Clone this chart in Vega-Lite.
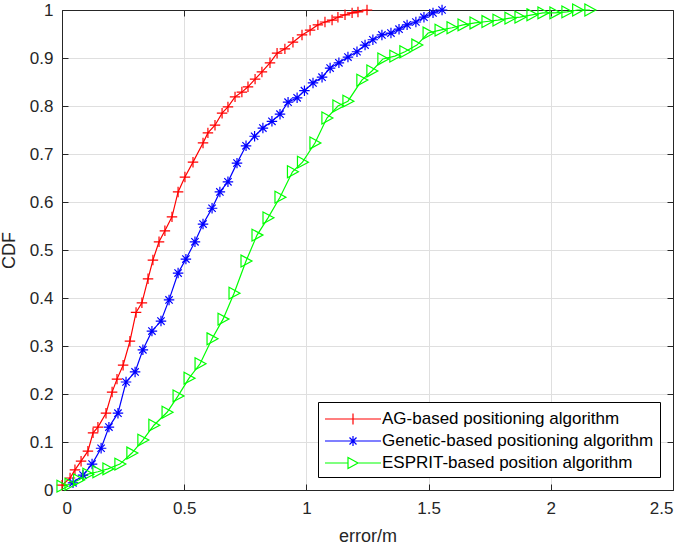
{
  "$schema": "https://vega.github.io/schema/vega-lite/v6.json",
  "width": 611,
  "height": 480,
  "autosize": {"type": "none"},
  "padding": {"left": 62, "top": 10, "right": 12, "bottom": 58},
  "background": "white",
  "config": {
    "font": "Liberation Sans",
    "view": {"stroke": null},
    "axis": {
      "domainColor": "#262626",
      "domainWidth": 1,
      "tickColor": "#262626",
      "tickWidth": 1,
      "labelColor": "#262626",
      "labelFont": "Liberation Sans",
      "labelFontSize": 17,
      "titleFont": "Liberation Sans",
      "titleFontSize": 18,
      "titleFontWeight": "normal",
      "titleColor": "#262626",
      "gridColor": "#dfdfdf",
      "gridWidth": 1
    },
    "legend": {"symbolSize": 400}
  },
  "data": {
    "values": [
      {"a": "AG-based positioning algorithm", "x": 0.0, "y": 0.01},
      {"a": "AG-based positioning algorithm", "x": 0.033, "y": 0.025},
      {"a": "AG-based positioning algorithm", "x": 0.053, "y": 0.042},
      {"a": "AG-based positioning algorithm", "x": 0.078, "y": 0.06},
      {"a": "AG-based positioning algorithm", "x": 0.106, "y": 0.081},
      {"a": "AG-based positioning algorithm", "x": 0.127, "y": 0.119},
      {"a": "AG-based positioning algorithm", "x": 0.147, "y": 0.131},
      {"a": "AG-based positioning algorithm", "x": 0.18, "y": 0.16},
      {"a": "AG-based positioning algorithm", "x": 0.205, "y": 0.204},
      {"a": "AG-based positioning algorithm", "x": 0.225, "y": 0.231},
      {"a": "AG-based positioning algorithm", "x": 0.25, "y": 0.26},
      {"a": "AG-based positioning algorithm", "x": 0.278, "y": 0.31},
      {"a": "AG-based positioning algorithm", "x": 0.303, "y": 0.37},
      {"a": "AG-based positioning algorithm", "x": 0.327, "y": 0.39},
      {"a": "AG-based positioning algorithm", "x": 0.352, "y": 0.44},
      {"a": "AG-based positioning algorithm", "x": 0.372, "y": 0.479},
      {"a": "AG-based positioning algorithm", "x": 0.397, "y": 0.517},
      {"a": "AG-based positioning algorithm", "x": 0.421, "y": 0.54},
      {"a": "AG-based positioning algorithm", "x": 0.45, "y": 0.569},
      {"a": "AG-based positioning algorithm", "x": 0.475, "y": 0.621},
      {"a": "AG-based positioning algorithm", "x": 0.503, "y": 0.652},
      {"a": "AG-based positioning algorithm", "x": 0.536, "y": 0.683},
      {"a": "AG-based positioning algorithm", "x": 0.577, "y": 0.723},
      {"a": "AG-based positioning algorithm", "x": 0.597, "y": 0.744},
      {"a": "AG-based positioning algorithm", "x": 0.626, "y": 0.76},
      {"a": "AG-based positioning algorithm", "x": 0.655, "y": 0.785},
      {"a": "AG-based positioning algorithm", "x": 0.679, "y": 0.798},
      {"a": "AG-based positioning algorithm", "x": 0.708, "y": 0.819},
      {"a": "AG-based positioning algorithm", "x": 0.736, "y": 0.829},
      {"a": "AG-based positioning algorithm", "x": 0.761, "y": 0.84},
      {"a": "AG-based positioning algorithm", "x": 0.79, "y": 0.856},
      {"a": "AG-based positioning algorithm", "x": 0.818, "y": 0.871},
      {"a": "AG-based positioning algorithm", "x": 0.851, "y": 0.89},
      {"a": "AG-based positioning algorithm", "x": 0.88, "y": 0.91},
      {"a": "AG-based positioning algorithm", "x": 0.912, "y": 0.919},
      {"a": "AG-based positioning algorithm", "x": 0.945, "y": 0.933},
      {"a": "AG-based positioning algorithm", "x": 0.982, "y": 0.948},
      {"a": "AG-based positioning algorithm", "x": 1.015, "y": 0.958},
      {"a": "AG-based positioning algorithm", "x": 1.047, "y": 0.969},
      {"a": "AG-based positioning algorithm", "x": 1.076, "y": 0.975},
      {"a": "AG-based positioning algorithm", "x": 1.105, "y": 0.979},
      {"a": "AG-based positioning algorithm", "x": 1.129, "y": 0.985},
      {"a": "AG-based positioning algorithm", "x": 1.158, "y": 0.99},
      {"a": "AG-based positioning algorithm", "x": 1.187, "y": 0.994},
      {"a": "AG-based positioning algorithm", "x": 1.211, "y": 0.996},
      {"a": "AG-based positioning algorithm", "x": 1.248, "y": 1.0},
      {"a": "Genetic-based positioning algorithm", "x": 0.045, "y": 0.015},
      {"a": "Genetic-based positioning algorithm", "x": 0.086, "y": 0.031},
      {"a": "Genetic-based positioning algorithm", "x": 0.123, "y": 0.054},
      {"a": "Genetic-based positioning algorithm", "x": 0.16, "y": 0.087},
      {"a": "Genetic-based positioning algorithm", "x": 0.192, "y": 0.131},
      {"a": "Genetic-based positioning algorithm", "x": 0.229, "y": 0.16},
      {"a": "Genetic-based positioning algorithm", "x": 0.262, "y": 0.225},
      {"a": "Genetic-based positioning algorithm", "x": 0.299, "y": 0.246},
      {"a": "Genetic-based positioning algorithm", "x": 0.331, "y": 0.292},
      {"a": "Genetic-based positioning algorithm", "x": 0.368, "y": 0.331},
      {"a": "Genetic-based positioning algorithm", "x": 0.405, "y": 0.352},
      {"a": "Genetic-based positioning algorithm", "x": 0.438, "y": 0.396},
      {"a": "Genetic-based positioning algorithm", "x": 0.475, "y": 0.452},
      {"a": "Genetic-based positioning algorithm", "x": 0.507, "y": 0.481},
      {"a": "Genetic-based positioning algorithm", "x": 0.544, "y": 0.517},
      {"a": "Genetic-based positioning algorithm", "x": 0.577, "y": 0.554},
      {"a": "Genetic-based positioning algorithm", "x": 0.614, "y": 0.587},
      {"a": "Genetic-based positioning algorithm", "x": 0.646, "y": 0.621},
      {"a": "Genetic-based positioning algorithm", "x": 0.679, "y": 0.642},
      {"a": "Genetic-based positioning algorithm", "x": 0.716, "y": 0.681},
      {"a": "Genetic-based positioning algorithm", "x": 0.753, "y": 0.717},
      {"a": "Genetic-based positioning algorithm", "x": 0.788, "y": 0.737},
      {"a": "Genetic-based positioning algorithm", "x": 0.822, "y": 0.754},
      {"a": "Genetic-based positioning algorithm", "x": 0.859, "y": 0.768},
      {"a": "Genetic-based positioning algorithm", "x": 0.892, "y": 0.783},
      {"a": "Genetic-based positioning algorithm", "x": 0.925, "y": 0.808},
      {"a": "Genetic-based positioning algorithm", "x": 0.962, "y": 0.817},
      {"a": "Genetic-based positioning algorithm", "x": 0.992, "y": 0.832},
      {"a": "Genetic-based positioning algorithm", "x": 1.027, "y": 0.848},
      {"a": "Genetic-based positioning algorithm", "x": 1.064, "y": 0.86},
      {"a": "Genetic-based positioning algorithm", "x": 1.097, "y": 0.879},
      {"a": "Genetic-based positioning algorithm", "x": 1.133, "y": 0.89},
      {"a": "Genetic-based positioning algorithm", "x": 1.17, "y": 0.902},
      {"a": "Genetic-based positioning algorithm", "x": 1.207, "y": 0.913},
      {"a": "Genetic-based positioning algorithm", "x": 1.24, "y": 0.927},
      {"a": "Genetic-based positioning algorithm", "x": 1.272, "y": 0.938},
      {"a": "Genetic-based positioning algorithm", "x": 1.309, "y": 0.948},
      {"a": "Genetic-based positioning algorithm", "x": 1.346, "y": 0.952},
      {"a": "Genetic-based positioning algorithm", "x": 1.379, "y": 0.96},
      {"a": "Genetic-based positioning algorithm", "x": 1.412, "y": 0.969},
      {"a": "Genetic-based positioning algorithm", "x": 1.448, "y": 0.975},
      {"a": "Genetic-based positioning algorithm", "x": 1.481, "y": 0.985},
      {"a": "Genetic-based positioning algorithm", "x": 1.518, "y": 0.994},
      {"a": "Genetic-based positioning algorithm", "x": 1.555, "y": 1.0},
      {"a": "ESPRIT-based position algorithm", "x": 0.0, "y": 0.008},
      {"a": "ESPRIT-based position algorithm", "x": 0.033, "y": 0.012},
      {"a": "ESPRIT-based position algorithm", "x": 0.068, "y": 0.021},
      {"a": "ESPRIT-based position algorithm", "x": 0.106, "y": 0.033},
      {"a": "ESPRIT-based position algorithm", "x": 0.147, "y": 0.038},
      {"a": "ESPRIT-based position algorithm", "x": 0.188, "y": 0.044},
      {"a": "ESPRIT-based position algorithm", "x": 0.237, "y": 0.054},
      {"a": "ESPRIT-based position algorithm", "x": 0.286, "y": 0.077},
      {"a": "ESPRIT-based position algorithm", "x": 0.331, "y": 0.104},
      {"a": "ESPRIT-based position algorithm", "x": 0.376, "y": 0.135},
      {"a": "ESPRIT-based position algorithm", "x": 0.43, "y": 0.162},
      {"a": "ESPRIT-based position algorithm", "x": 0.475, "y": 0.196},
      {"a": "ESPRIT-based position algorithm", "x": 0.52, "y": 0.233},
      {"a": "ESPRIT-based position algorithm", "x": 0.565, "y": 0.263},
      {"a": "ESPRIT-based position algorithm", "x": 0.614, "y": 0.315},
      {"a": "ESPRIT-based position algorithm", "x": 0.659, "y": 0.356},
      {"a": "ESPRIT-based position algorithm", "x": 0.704, "y": 0.41},
      {"a": "ESPRIT-based position algorithm", "x": 0.753, "y": 0.477},
      {"a": "ESPRIT-based position algorithm", "x": 0.798, "y": 0.531},
      {"a": "ESPRIT-based position algorithm", "x": 0.843, "y": 0.567},
      {"a": "ESPRIT-based position algorithm", "x": 0.892, "y": 0.61},
      {"a": "ESPRIT-based position algorithm", "x": 0.943, "y": 0.663},
      {"a": "ESPRIT-based position algorithm", "x": 0.984, "y": 0.683},
      {"a": "ESPRIT-based position algorithm", "x": 1.035, "y": 0.723},
      {"a": "ESPRIT-based position algorithm", "x": 1.084, "y": 0.775},
      {"a": "ESPRIT-based position algorithm", "x": 1.129, "y": 0.8},
      {"a": "ESPRIT-based position algorithm", "x": 1.17, "y": 0.81},
      {"a": "ESPRIT-based position algorithm", "x": 1.227, "y": 0.854},
      {"a": "ESPRIT-based position algorithm", "x": 1.268, "y": 0.873},
      {"a": "ESPRIT-based position algorithm", "x": 1.313, "y": 0.898},
      {"a": "ESPRIT-based position algorithm", "x": 1.362, "y": 0.904},
      {"a": "ESPRIT-based position algorithm", "x": 1.403, "y": 0.913},
      {"a": "ESPRIT-based position algorithm", "x": 1.452, "y": 0.927},
      {"a": "ESPRIT-based position algorithm", "x": 1.498, "y": 0.952},
      {"a": "ESPRIT-based position algorithm", "x": 1.547, "y": 0.958},
      {"a": "ESPRIT-based position algorithm", "x": 1.596, "y": 0.963},
      {"a": "ESPRIT-based position algorithm", "x": 1.641, "y": 0.969},
      {"a": "ESPRIT-based position algorithm", "x": 1.69, "y": 0.973},
      {"a": "ESPRIT-based position algorithm", "x": 1.739, "y": 0.976},
      {"a": "ESPRIT-based position algorithm", "x": 1.784, "y": 0.979},
      {"a": "ESPRIT-based position algorithm", "x": 1.833, "y": 0.983},
      {"a": "ESPRIT-based position algorithm", "x": 1.874, "y": 0.985},
      {"a": "ESPRIT-based position algorithm", "x": 1.923, "y": 0.99},
      {"a": "ESPRIT-based position algorithm", "x": 1.968, "y": 0.994},
      {"a": "ESPRIT-based position algorithm", "x": 2.017, "y": 0.994},
      {"a": "ESPRIT-based position algorithm", "x": 2.066, "y": 0.996},
      {"a": "ESPRIT-based position algorithm", "x": 2.11, "y": 1.0},
      {"a": "ESPRIT-based position algorithm", "x": 2.16, "y": 1.0}
    ]
  },
  "resolve": {"axis": {"x": "independent", "y": "independent"}},
  "layer": [
    {
      "mark": {"type": "line", "strokeWidth": 1.2, "clip": false},
      "encoding": {
        "x": {
          "field": "x", "type": "quantitative",
          "scale": {"domain": [0, 2.5], "nice": false, "zero": false},
          "axis": {
            "orient": "bottom", "title": "error/m", "values": [0, 0.5, 1, 1.5, 2, 2.5],
            "format": "~g", "grid": true, "tickSize": -6, "labelPadding": 16, "titlePadding": 11
          }
        },
        "y": {
          "field": "y", "type": "quantitative",
          "scale": {"domain": [0, 1], "nice": false, "zero": false},
          "axis": {
            "orient": "left", "title": "CDF", "values": [0, 0.1, 0.2, 0.3, 0.4, 0.5, 0.6, 0.7, 0.8, 0.9, 1],
            "format": "~g", "grid": true, "tickSize": -6, "labelPadding": 15, "titlePadding": 11
          }
        },
        "color": {
          "field": "a", "type": "nominal",
          "scale": {
            "domain": ["AG-based positioning algorithm", "Genetic-based positioning algorithm", "ESPRIT-based position algorithm"],
            "range": ["#ff0000", "#0000ff", "#00ff00"]
          },
          "legend": {
            "title": null,
            "orient": "none",
            "legendX": 256,
            "legendY": 392,
            "padding": 6,
            "strokeColor": "#000000",
            "fillColor": "#ffffff",
            "labelFontSize": 17,
            "labelFont": "Liberation Sans",
            "labelColor": "#000000",
            "labelLimit": 0,
            "labelOffset": 36,
            "rowPadding": 3,
            "symbolSize": 400,
            "symbolStrokeWidth": 1.2,
            "encode": {
              "symbols": {
                "update": {
                  "shape": {"signal": "datum.value == 'AG-based positioning algorithm' ? 'M-1,0H4.6M1.8,-0.55V0.55' : datum.value == 'Genetic-based positioning algorithm' ? 'M-1,0H4.6M1.8,-0.5V0.5M1.45,-0.35L2.15,0.35M1.45,0.35L2.15,-0.35' : 'M-1,0H1.3M2.3,0H4.6M1.3,-0.55L2.3,0L1.3,0.55Z'"},
                  "fill": {"value": "transparent"},
                  "stroke": {"signal": "scale('color', datum.value)"},
                  "strokeWidth": {"value": 1.2},
                  "size": {"value": 400},
                  "opacity": {"value": 1}
                }
              }
            }
          }
        }
      }
    },
    {
      "transform": [{"filter": "datum.a == 'AG-based positioning algorithm'"}],
      "mark": {"type": "point", "shape": "M-1,0H1M0,-1V1", "filled": false, "strokeWidth": 1.2, "size": 110, "clip": false, "opacity": 1},
      "encoding": {
        "x": {
          "field": "x", "type": "quantitative",
          "axis": {"orient": "top", "title": null, "labels": false, "grid": false, "tickSize": -6, "values": [0, 0.5, 1, 1.5, 2, 2.5]}
        },
        "y": {
          "field": "y", "type": "quantitative",
          "axis": {"orient": "right", "title": null, "labels": false, "grid": false, "tickSize": -6, "values": [0, 0.1, 0.2, 0.3, 0.4, 0.5, 0.6, 0.7, 0.8, 0.9, 1]}
        },
        "color": {"field": "a", "type": "nominal", "legend": null}
      }
    },
    {
      "transform": [{"filter": "datum.a == 'Genetic-based positioning algorithm'"}],
      "mark": {"type": "point", "shape": "M-1,0H1M0,-1V1M-0.7,-0.7L0.7,0.7M-0.7,0.7L0.7,-0.7", "filled": false, "strokeWidth": 1.2, "size": 110, "clip": false, "opacity": 1},
      "encoding": {
        "x": {"field": "x", "type": "quantitative", "axis": null},
        "y": {"field": "y", "type": "quantitative", "axis": null},
        "color": {"field": "a", "type": "nominal", "legend": null}
      }
    },
    {
      "transform": [{"filter": "datum.a == 'ESPRIT-based position algorithm'"}],
      "mark": {"type": "point", "shape": "M-0.85,-1L1,0L-0.85,1Z", "filled": false, "strokeWidth": 1.2, "size": 140, "clip": false, "opacity": 1},
      "encoding": {
        "x": {"field": "x", "type": "quantitative", "axis": null},
        "y": {"field": "y", "type": "quantitative", "axis": null},
        "color": {"field": "a", "type": "nominal", "legend": null}
      }
    }
  ]
}
